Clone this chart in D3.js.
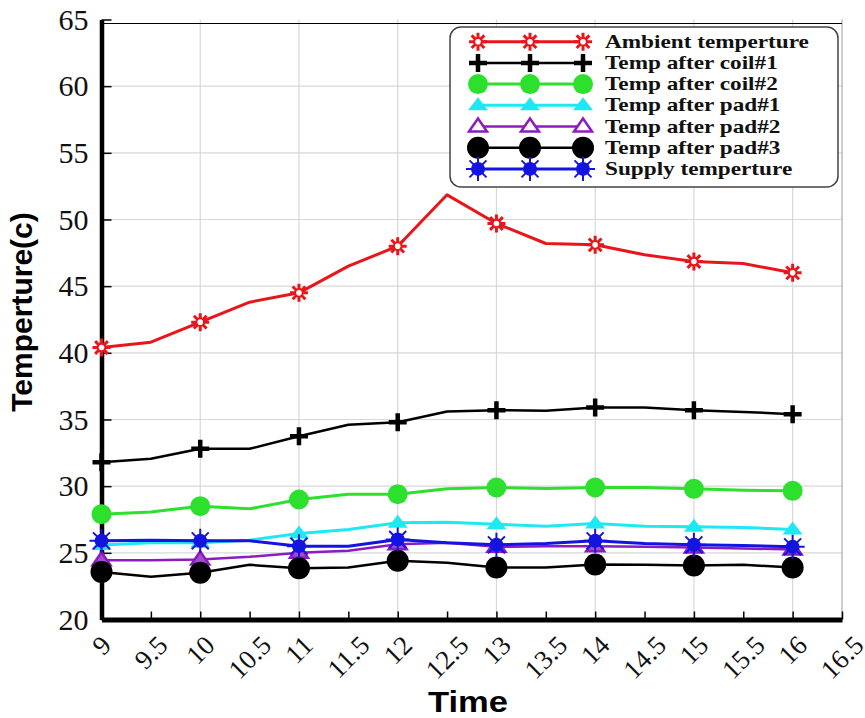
<!DOCTYPE html>
<html><head><meta charset="utf-8">
<script src="https://cdn.jsdelivr.net/npm/d3@7"></script>
<style>
html,body{margin:0;padding:0;background:#fff;}
svg{display:block;}
.serif{font-family:"Liberation Serif","DejaVu Serif","Noto Serif","Times New Roman",Times,serif;}
.sans{font-family:"Liberation Sans",Arial,Helvetica,sans-serif;}
</style></head>
<body>
<svg id="chart" width="865" height="718"></svg>
<script>
// ---- data ----
const times = [9, 9.5, 10, 10.5, 11, 11.5, 12, 12.5, 13, 13.5, 14, 14.5, 15, 15.5, 16];
const ambient = [40.4, 40.8, 42.3, 43.8, 44.5, 46.5, 48.0, 51.85, 49.7, 48.2, 48.1, 47.35, 46.85, 46.7, 46.0];
const coil1   = [31.8, 32.05, 32.8, 32.8, 33.75, 34.6, 34.8, 35.6, 35.7, 35.65, 35.9, 35.9, 35.7, 35.57, 35.4];
const coil2   = [27.9, 28.07, 28.5, 28.3, 29.0, 29.4, 29.4, 29.8, 29.9, 29.83, 29.9, 29.9, 29.8, 29.7, 29.65];
const pad1    = [25.58, 25.75, 25.75, 25.95, 26.45, 26.75, 27.25, 27.3, 27.15, 27.0, 27.2, 27.0, 26.95, 26.9, 26.75];
const pad2    = [24.45, 24.45, 24.5, 24.7, 25.0, 25.15, 25.65, 25.75, 25.45, 25.5, 25.5, 25.45, 25.4, 25.33, 25.25];
const pad3    = [23.57, 23.2, 23.5, 24.1, 23.85, 23.9, 24.4, 24.25, 23.9, 23.9, 24.13, 24.1, 24.05, 24.1, 23.9];
const supply  = [25.9, 25.95, 25.9, 25.9, 25.5, 25.5, 26.0, 25.75, 25.6, 25.7, 25.9, 25.7, 25.6, 25.55, 25.45];
const seriesNames = ["Ambient temperture", "Temp after coil#1", "Temp after coil#2", "Temp after pad#1", "Temp after pad#2", "Temp after pad#3", "Supply temperture"];
const xTicks = [9, 9.5, 10, 10.5, 11, 11.5, 12, 12.5, 13, 13.5, 14, 14.5, 15, 15.5, 16, 16.5];
const yTicks = [20, 25, 30, 35, 40, 45, 50, 55, 60, 65];

// ---- styles ----
const styles = [
  {color: "#e8161b", width: 3,   marker: "starO"},
  {color: "#000000", width: 2.5, marker: "plus"},
  {color: "#2ee02e", width: 3,   marker: "circle"},
  {color: "#1fe8f5", width: 3,   marker: "tri"},
  {color: "#8a1cc0", width: 2.5, marker: "triO"},
  {color: "#000000", width: 2.5, marker: "circleBig"},
  {color: "#1414e0", width: 3,   marker: "starF"}
];
const seriesData = [ambient, coil1, coil2, pad1, pad2, pad3, supply];

const svg = d3.select("#chart");
const x = d3.scaleLinear().domain([9, 16.5]).range([101.5, 842]);
const y = d3.scaleLinear().domain([20, 65]).range([619.5, 19.5]);

// grid
const grid = svg.append("g");
grid.selectAll("line.h").data(yTicks.filter(v => v > 20 && v < 65)).enter().append("line")
  .attr("x1", x(9)).attr("x2", x(16.5)).attr("y1", d => y(d)).attr("y2", d => y(d))
  .attr("stroke", "#d8d8d8").attr("stroke-width", 1.2);
grid.selectAll("line.v").data(xTicks.filter(v => Number.isInteger(v) && v > 9)).enter().append("line")
  .attr("x1", d => x(d)).attr("x2", d => x(d)).attr("y1", y(20)).attr("y2", y(65))
  .attr("stroke", "#d8d8d8").attr("stroke-width", 1.2);
// right + top frame
svg.append("line").attr("x1", x(16.5)).attr("x2", x(16.5)).attr("y1", y(20)).attr("y2", y(65))
  .attr("stroke", "#9a9a9a").attr("stroke-width", 1);
svg.append("line").attr("x1", x(9)).attr("x2", x(16.5)).attr("y1", y(65) + 4).attr("y2", y(65) + 4)
  .attr("stroke", "#000").attr("stroke-width", 1.2);

// axes
const xAxis = d3.axisBottom(x).tickValues(xTicks).tickSizeInner(-8).tickSizeOuter(0).tickFormat("");
const gx = svg.append("g").attr("transform", `translate(0,${y(20)})`).call(xAxis);
gx.select(".domain").attr("stroke-width", 5);
gx.selectAll(".tick line").attr("stroke-width", 1.5);
const yAxis = d3.axisLeft(y).tickValues(yTicks).tickSizeInner(-10).tickSizeOuter(0).tickFormat("");
const gy = svg.append("g").attr("transform", `translate(${x(9)},0)`).call(yAxis);
gy.select(".domain").attr("stroke-width", 4.5);
gy.selectAll(".tick line").attr("stroke-width", 1.5);

// y tick labels
svg.append("g").selectAll("text").data(yTicks).enter().append("text")
  .attr("class", "serif")
  .attr("x", x(9) - 13).attr("y", d => y(d) + 10)
  .attr("text-anchor", "end")
  .attr("font-size", 30)
  .attr("fill", "#111").text(d => d);

// x tick labels (rotated)
const xFont = 27;
const xl = svg.append("g").selectAll("text").data(xTicks).enter().append("text")
  .attr("class", "serif")
  .attr("text-anchor", "middle")
  .attr("font-size", xFont)
  .attr("fill", "#111").attr("dy", "0.34em").text(d => d);
xl.each(function(d) {
  const w = this.getComputedTextLength();
  const bh = (w + 0.68 * xFont) * Math.SQRT1_2;
  d3.select(this).attr("transform", `translate(${x(d)},${634 + bh / 2}) rotate(-45)`);
});

// axis titles
svg.append("text").attr("class", "sans").attr("x", 468).attr("y", 712).attr("text-anchor", "middle")
  .attr("font-size", 29).attr("font-weight", "bold")
  .attr("textLength", 80).attr("lengthAdjust", "spacingAndGlyphs").text("Time");
svg.append("text").attr("class", "sans").attr("transform", "translate(32,312) rotate(-90)").attr("text-anchor", "middle")
  .attr("font-size", 30).attr("font-weight", "bold")
  .text("Temperture(c)");

// marker drawing
function drawMarker(g, type, color, legend) {
  const spokes = r => {
    let p = "";
    for (let i = 0; i < 4; i++) {
      const a = i * Math.PI / 4;
      p += `M${-r * Math.cos(a)},${-r * Math.sin(a)}L${r * Math.cos(a)},${r * Math.sin(a)}`;
    }
    return p;
  };
  if (type === "starO") {
    g.append("path").attr("d", spokes(9)).attr("stroke", color).attr("stroke-width", 3);
    g.append("circle").attr("r", 3.8).attr("fill", "#fff").attr("stroke", color).attr("stroke-width", 2);
  } else if (type === "plus") {
    g.append("path").attr("d", "M-9,0H9M0,-9V9").attr("stroke", color).attr("stroke-width", 4.5);
  } else if (type === "circle") {
    g.append("circle").attr("r", 10).attr("fill", color);
  } else if (type === "tri") {
    g.append("path").attr("d", "M0,-8L10,5L-10,5Z").attr("fill", color);
  } else if (type === "triO") {
    g.append("path").attr("d", "M0,-8L9,5L-9,5Z").attr("fill", legend ? "#fff" : "#a64ad0")
      .attr("stroke", color).attr("stroke-width", 2.5);
  } else if (type === "circleBig") {
    g.append("circle").attr("r", 11).attr("fill", color);
  } else if (type === "starF") {
    g.append("path").attr("d", spokes(12)).attr("stroke", color).attr("stroke-width", 2);
    g.append("circle").attr("r", 7).attr("fill", color);
  }
}

// series
const line = d3.line().x((d, i) => x(times[i])).y(d => y(d));
seriesData.forEach((vals, si) => {
  const st = styles[si];
  const g = svg.append("g");
  g.append("path").datum(vals).attr("d", line).attr("fill", "none")
    .attr("stroke", st.color).attr("stroke-width", st.width).attr("stroke-linejoin", "round");
  vals.forEach((v, i) => {
    if (Number.isInteger(times[i])) {
      const mg = g.append("g").attr("transform", `translate(${x(times[i])},${y(v)})`);
      drawMarker(mg, st.marker, st.color, false);
    }
  });
});

// legend
const lg = svg.append("g");
lg.append("rect").attr("x", 450).attr("y", 27).attr("width", 388).attr("height", 160)
  .attr("rx", 11).attr("fill", "#fff").attr("stroke", "#444").attr("stroke-width", 1.5);
seriesNames.forEach((name, i) => {
  const cy = 41.7 + i * 21.2;
  const st = styles[i];
  lg.append("line").attr("x1", 478).attr("x2", 583).attr("y1", cy).attr("y2", cy)
    .attr("stroke", st.color).attr("stroke-width", st.width);
  [478, 530, 583].forEach(mx => {
    const mg = lg.append("g").attr("transform", `translate(${mx},${cy})`);
    drawMarker(mg, st.marker, st.color, true);
  });
  lg.append("text").attr("class", "serif").attr("transform", `translate(605,${cy + 6}) scale(1.29,1)`)
    .attr("font-size", 18).attr("font-weight", "bold")
    .attr("fill", "#111").text(name);
});
</script>
</body></html>
